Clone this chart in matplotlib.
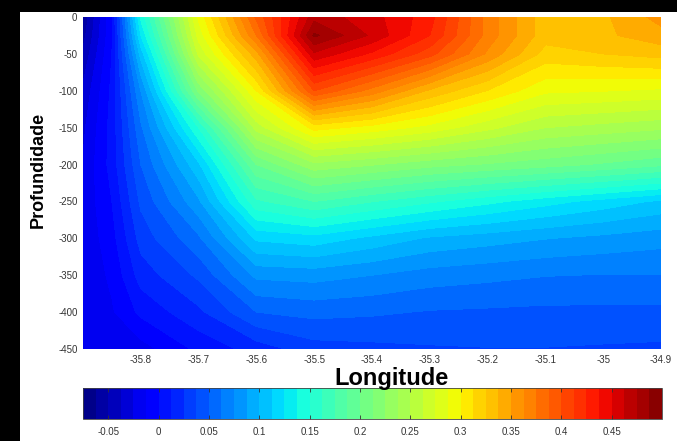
import numpy as np
import matplotlib
matplotlib.use("Agg")
import matplotlib.pyplot as plt
from matplotlib.patches import Rectangle

plt.rcParams['font.family'] = ['Liberation Sans', 'DejaVu Sans']

# ---- data (columns = longitudes, rows = depths) ----
longitudes = [-35.9, -35.85, -35.8, -35.7, -35.6, -35.5, -35.4, -35.3, -35.2, -35.1, -35.0, -34.9]
depths = [0, -25, -50, -100, -150, -200, -250, -300, -350, -400, -450]
col_m3590 = [-0.060, -0.055, -0.048, -0.035, -0.028, -0.024, -0.022, -0.022, -0.022, -0.022, -0.022]
col_m3585 = [-0.002, -0.002, 0.000, 0.003, 0.005, 0.005, 0.000, -0.005, -0.010, -0.014, -0.017]
col_m3580 = [0.140, 0.125, 0.105, 0.075, 0.060, 0.050, 0.040, 0.030, 0.018, 0.003, -0.018]
col_m3570 = [0.290, 0.280, 0.265, 0.215, 0.150, 0.110, 0.085, 0.060, 0.040, 0.022, 0.003]
col_m3560 = [0.390, 0.375, 0.345, 0.300, 0.255, 0.200, 0.160, 0.115, 0.078, 0.050, 0.018]
col_m3550 = [0.470, 0.490, 0.460, 0.400, 0.305, 0.234, 0.175, 0.120, 0.080, 0.054, 0.032]
col_m3540 = [0.455, 0.460, 0.435, 0.370, 0.295, 0.226, 0.163, 0.109, 0.075, 0.052, 0.034]
col_m3530 = [0.430, 0.425, 0.405, 0.335, 0.283, 0.217, 0.152, 0.098, 0.069, 0.049, 0.036]
col_m3520 = [0.370, 0.370, 0.360, 0.312, 0.266, 0.211, 0.141, 0.093, 0.066, 0.048, 0.037]
col_m3510 = [0.330, 0.330, 0.320, 0.290, 0.250, 0.205, 0.130, 0.088, 0.063, 0.047, 0.037]
col_m3500 = [0.335, 0.335, 0.325, 0.288, 0.245, 0.198, 0.120, 0.084, 0.062, 0.047, 0.036]
col_m3490 = [0.355, 0.345, 0.330, 0.285, 0.240, 0.190, 0.110, 0.080, 0.062, 0.047, 0.035]
values = np.array([col_m3590, col_m3585, col_m3580, col_m3570, col_m3560, col_m3550,
                   col_m3540, col_m3530, col_m3520, col_m3510, col_m3500, col_m3490]).T

x_ticks = [-35.8, -35.7, -35.6, -35.5, -35.4, -35.3, -35.2, -35.1, -35.0, -34.9]
x_ticklabels = ['-35.8', '-35.7', '-35.6', '-35.5', '-35.4', '-35.3', '-35.2', '-35.1', '-35', '-34.9']
y_ticks = [0, -50, -100, -150, -200, -250, -300, -350, -400, -450]
cbar_ticks = [-0.05, 0, 0.05, 0.1, 0.15, 0.2, 0.25, 0.3, 0.35, 0.4, 0.45]
cbar_ticklabels = ['-0.05', '0', '0.05', '0.1', '0.15', '0.2', '0.25', '0.3', '0.35', '0.4', '0.45']
levels = np.linspace(-0.075, 0.5, 47)

W, H = 677, 441
fig = plt.figure(figsize=(W / 100, H / 100), dpi=100, facecolor='black')
# white panel (black strips remain on left and top)
fig.patches.append(Rectangle((20 / W, 0), 1 - 20 / W, 1 - 12 / H,
                             transform=fig.transFigure, facecolor='white',
                             edgecolor='none', zorder=-10))

ax = fig.add_axes([83 / W, 1 - 349 / H, (661 - 83) / W, (349 - 17) / H])
X, Y = np.meshgrid(longitudes, depths)
cf = ax.contourf(X, Y, values, levels=levels, cmap='jet', vmin=-0.075, vmax=0.5)
ax.set_xlim(-35.9, -34.9)
ax.set_ylim(-450, 0)
ax.set_xticks(x_ticks)
ax.set_xticklabels(x_ticklabels)
ax.set_yticks(y_ticks)
ax.set_yticklabels([str(v) for v in y_ticks])
ax.tick_params(length=0, labelsize=7, colors='#333333', pad=4)
for s in ax.spines.values():
    s.set_visible(False)

fig.text(391 / W, 1 - 385 / H, 'Longitude', ha='center', va='baseline',
         fontsize=17, fontweight='bold', color='black')
fig.text(38 / W, 1 - 170 / H, 'Profundidade', ha='center', va='center',
         rotation=90, fontsize=13, fontweight='bold', color='black')

cax = fig.add_axes([83 / W, 1 - 419 / H, (662 - 83) / W, 31 / H])
cb = fig.colorbar(cf, cax=cax, orientation='horizontal')
cb.set_ticks(cbar_ticks)
cb.set_ticklabels(cbar_ticklabels)
cax.tick_params(labelsize=7, colors='#333333', direction='in', length=3,
                width=0.6, top=True, pad=6)
cb.outline.set_linewidth(0.6)
cb.outline.set_edgecolor('#444444')

fig.savefig('out.png', dpi=100, facecolor=fig.get_facecolor())
